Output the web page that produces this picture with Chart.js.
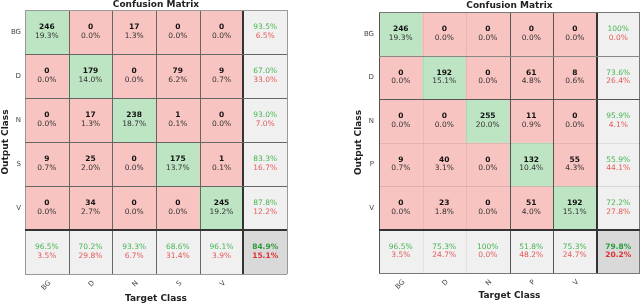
<!DOCTYPE html>
<html>
<head>
<meta charset="utf-8">
<script src="https://cdn.jsdelivr.net/npm/chart.js@4.4.1/dist/chart.umd.min.js"></script>
<style>
  html, body { margin: 0; padding: 0; background: #fff; width: 640px; height: 304px; overflow: hidden; }
  .pane { position: absolute; top: 0; width: 320px; height: 304px; }
</style>
</head>
<body>
<div class="pane" style="left:0"><canvas id="cmLeft" width="320" height="304"></canvas></div>
<div class="pane" style="left:320px"><canvas id="cmRight" width="320" height="304"></canvas></div>
<script>
// rows = output class, columns = target class
const classesLeft = ['BG', 'D', 'N', 'S', 'V'];
const countsLeft = [
  [246, 0, 17, 0, 0],
  [0, 179, 0, 79, 9],
  [0, 17, 238, 1, 0],
  [9, 25, 0, 175, 1],
  [0, 34, 0, 0, 245]
];

const classesRight = ['BG', 'D', 'N', 'P', 'V'];
const countsRight = [
  [246, 0, 0, 0, 0],
  [0, 192, 0, 61, 8],
  [0, 0, 255, 11, 0],
  [9, 40, 0, 132, 55],
  [0, 23, 0, 51, 192]
];

const GREEN_CELL = '#bde5c4';
const RED_CELL = '#f8c4c1';
const GRAY_CELL = '#f0f0f0';
const CORNER_CELL = '#d9d9d9';
const FONT = '"DejaVu Sans", sans-serif';

Chart.defaults.font.family = FONT;

function fmt(v) {
  return v === 100 ? '100%' : v.toFixed(1) + '%';
}

function makeMatrix(canvasId, classes, counts, look) {
  const n = classes.length;
  const total = counts.flat().reduce((a, b) => a + b, 0);

  const datasets = [];
  for (let r = 0; r <= n; r++) {
    const colors = [];
    const data = [];
    for (let c = 0; c <= n; c++) {
      data.push([r, r + 1]);
      if (r === n && c === n) colors.push(CORNER_CELL);
      else if (r === n || c === n) colors.push(GRAY_CELL);
      else colors.push(r === c ? GREEN_CELL : RED_CELL);
    }
    datasets.push({ data: data, backgroundColor: colors, borderWidth: 0 });
  }

  // text + grid lines drawn over the bars
  const cellText = {
    id: 'cellText',
    afterDatasetsDraw(chart) {
      const ctx = chart.ctx;
      const x = chart.scales.x, y = chart.scales.y;
      const area = chart.chartArea;

      // lines
      look.vLines.forEach((l, i) => {
        let px = x.getPixelForValue(i - 0.5);
        px = l.w === 1 ? Math.round(px) + 0.5 : Math.round(px);
        if (i === n + 1) px = Math.min(px, chart.width - 0.5);
        ctx.save();
        ctx.strokeStyle = l.c;
        ctx.lineWidth = l.w;
        ctx.beginPath();
        ctx.moveTo(px, area.top);
        ctx.lineTo(px, area.bottom);
        ctx.stroke();
        ctx.restore();
      });
      look.hLines.forEach((l, i) => {
        let py = y.getPixelForValue(i);
        py = l.w === 1 ? Math.round(py) + 0.5 : Math.round(py);
        ctx.save();
        ctx.strokeStyle = l.c;
        ctx.lineWidth = l.w;
        ctx.beginPath();
        ctx.moveTo(area.left, py);
        ctx.lineTo(area.right, py);
        ctx.stroke();
        ctx.restore();
      });

      ctx.save();
      ctx.textAlign = 'center';
      ctx.textBaseline = 'middle';
      const rowSum = counts.map(row => row.reduce((a, b) => a + b, 0));
      const colSum = classes.map((_, c) => counts.reduce((a, row) => a + row[c], 0));
      const diag = counts.reduce((a, row, i) => a + row[i], 0);
      for (let r = 0; r <= n; r++) {
        for (let c = 0; c <= n; c++) {
          const cx = x.getPixelForValue(c);
          const cy = y.getPixelForValue(r + 0.5);
          if (r < n && c < n) {
            const v = counts[r][c];
            ctx.font = 'bold 7.5px ' + FONT;
            ctx.fillStyle = '#111';
            ctx.fillText(String(v), cx, cy - 4.5);
            ctx.font = '7.5px ' + FONT;
            ctx.fillStyle = '#333';
            ctx.fillText((v / total * 100).toFixed(1) + '%', cx, cy + 4);
            continue;
          }
          // summary cells: share correct / share wrong
          const corner = r === n && c === n;
          const hit = corner ? diag : c === n ? counts[r][r] : counts[c][c];
          const base = corner ? total : c === n ? rowSum[r] : colSum[c];
          ctx.font = (corner ? 'bold ' : '') + '7.5px ' + FONT;
          ctx.fillStyle = corner ? '#2a9d38' : '#47b653';
          ctx.fillText(fmt(hit / base * 100), cx, cy - 4.5);
          ctx.fillStyle = corner ? '#e0302f' : '#e45a58';
          ctx.fillText(fmt((base - hit) / base * 100), cx, cy + 4);
        }
      }

      // title
      ctx.font = 'bold 9px ' + FONT;
      ctx.fillStyle = '#222';
      ctx.fillText('Confusion Matrix', (area.left + area.right) / 2, look.titleY);
      ctx.restore();
    }
  };

  return new Chart(document.getElementById(canvasId), {
    type: 'bar',
    data: { labels: classes.concat(['']), datasets: datasets },
    options: {
      responsive: false,
      animation: false,
      devicePixelRatio: 1,
      events: [],
      layout: { padding: look.padding },
      datasets: {
        bar: { barPercentage: 1, categoryPercentage: 1, grouped: false, borderSkipped: false }
      },
      plugins: { legend: { display: false }, tooltip: { enabled: false }, title: { display: false } },
      scales: {
        x: {
          type: 'category',
          offset: true,
          grid: { display: false, drawTicks: false },
          border: { display: false },
          ticks: {
            autoSkip: false,
            minRotation: 45,
            maxRotation: 45,
            padding: look.xTickPad,
            labelOffset: 3,
            color: '#444',
            font: { size: 7 }
          },
          title: {
            display: true,
            text: 'Target Class',
            color: '#222',
            font: { size: 9, weight: 'bold' },
            padding: { top: 0, bottom: look.xTitlePad }
          },
          afterFit(s) { s.height = look.xHeight; }
        },
        y: {
          type: 'linear',
          min: 0,
          max: n + 1,
          reverse: true,
          grid: { display: false, drawTicks: false },
          border: { display: false },
          afterBuildTicks(s) { s.ticks = classes.map((_, i) => ({ value: i + 0.5 })); },
          ticks: {
            padding: look.yTickPad,
            color: '#444',
            font: { size: 7 },
            callback: v => classes[Math.floor(v)]
          },
          title: {
            display: true,
            text: 'Output Class',
            color: '#222',
            font: { size: 9, weight: 'bold' },
            padding: { top: look.yTitlePad, bottom: 0 }
          },
          afterFit(s) { s.width = look.yWidth; }
        }
      }
    },
    plugins: [cellText]
  });
}

const line = (c, w) => ({ c: c, w: w || 1 });

makeMatrix('cmLeft', classesLeft, countsLeft, {
  padding: { left: 0, right: 33, top: 10, bottom: 0 },
  yWidth: 25, xHeight: 30, yTickPad: 4, xTickPad: 5, yTitlePad: 0, xTitlePad: 0, titleY: 5,
  vLines: [line('#999'), line('#666'), line('#666'), line('#666'), line('#666'), line('#333', 2), line('#999')],
  hLines: [line('#999'), line('#666'), line('#666'), line('#666'), line('#666'), line('#333', 2), line('#999')]
});

makeMatrix('cmRight', classesRight, countsRight, {
  padding: { left: 0, right: 0, top: 12, bottom: 0 },
  yWidth: 59, xHeight: 31, yTickPad: 5, xTickPad: 5, yTitlePad: 33, xTitlePad: 2.5, titleY: 6,
  vLines: [line('#555'), line('rgba(0,0,0,0.06)'), line('rgba(0,0,0,0.06)'), line('#555'), line('#555'), line('#333', 2), line('#777')],
  hLines: [line('#777'), line('#888'), line('#555'), line('rgba(0,0,0,0.08)'), line('rgba(0,0,0,0.1)'), line('#333', 2), line('#777')]
});
</script>
</body>
</html>
